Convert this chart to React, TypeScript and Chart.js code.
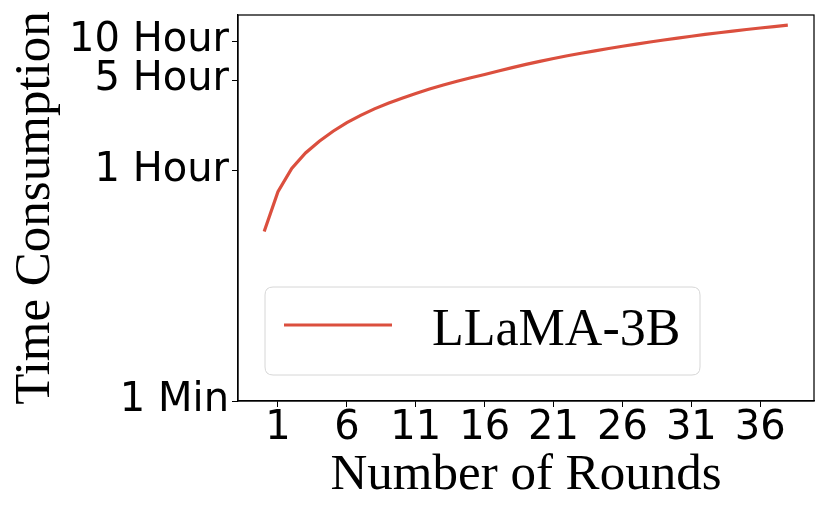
import React, { useEffect, useRef } from 'react';
import { Chart, registerables } from 'chart.js';

Chart.register(...registerables);

// ---- data ----
const rounds = [0, 1, 2, 3, 4, 5, 6, 7, 8, 9, 10, 11, 12, 13, 14, 15, 16, 17, 18, 19, 20, 21, 22, 23, 24, 25, 26, 27, 28, 29, 30, 31, 32, 33, 34, 35, 36, 37, 38];
// cumulative time in seconds
const timeSeconds = [
  1220, 2480, 3750, 4930, 6080, 7250, 8450, 9620, 10800, 11950,
  13050, 14200, 15350, 16500, 17650, 18780, 19900, 21180, 22480, 23800,
  25120, 26430, 27730, 29020, 30300, 31580, 32860, 34140, 35420, 36700,
  37980, 39250, 40520, 41780, 43030, 44250, 45450, 46630, 47780,
];
const seriesLabel = 'LLaMA-3B';
const xTickValues = [1, 6, 11, 16, 21, 26, 31, 36];
const yTickValues = [60, 3600, 18000, 36000];
const yTickLabels = ['1 Min', '1 Hour', '5 Hour', '10 Hour'];
const xTitle = 'Number of Rounds';
const yTitle = 'Time Consumption';

const LINE_COLOR = '#db4f3e';
const SERIF = '"Liberation Serif", "DejaVu Serif", serif';
const SANS = '"DejaVu Sans", sans-serif';

const framePlugin = {
  id: 'frameAndLegend',
  afterDraw(chart: any) {
    const { ctx, chartArea } = chart;
    const { left, right, top, bottom } = chartArea;
    ctx.save();
    // frame
    ctx.strokeStyle = '#000';
    ctx.lineWidth = 1.25;
    ctx.strokeRect(left, top, right - left, bottom - top);

    // legend (lower left inside plot)
    const ds = chart.data.datasets[0];
    const bx = left + 27;
    const bw = 435;
    const bh = 88;
    const by = bottom - 26 - bh;
    const r = 8;
    ctx.beginPath();
    ctx.moveTo(bx + r, by);
    ctx.lineTo(bx + bw - r, by);
    ctx.quadraticCurveTo(bx + bw, by, bx + bw, by + r);
    ctx.lineTo(bx + bw, by + bh - r);
    ctx.quadraticCurveTo(bx + bw, by + bh, bx + bw - r, by + bh);
    ctx.lineTo(bx + r, by + bh);
    ctx.quadraticCurveTo(bx, by + bh, bx, by + bh - r);
    ctx.lineTo(bx, by + r);
    ctx.quadraticCurveTo(bx, by, bx + r, by);
    ctx.closePath();
    ctx.fillStyle = 'rgba(255,255,255,0.8)';
    ctx.fill();
    ctx.strokeStyle = '#d6d6d6';
    ctx.lineWidth = 1;
    ctx.stroke();

    const ly = by + 38;
    ctx.beginPath();
    ctx.moveTo(bx + 19, ly);
    ctx.lineTo(bx + 127, ly);
    ctx.strokeStyle = ds.borderColor;
    ctx.lineWidth = 3.2;
    ctx.stroke();

    ctx.fillStyle = '#000';
    ctx.font = `52px ${SERIF}`;
    ctx.textAlign = 'left';
    ctx.textBaseline = 'alphabetic';
    ctx.fillText(ds.label, bx + 167, by + 58);
    ctx.restore();
  },
};

export default function App() {
  const canvasRef = useRef<HTMLCanvasElement | null>(null);

  useEffect(() => {
    if (!canvasRef.current) return;
    const chart = new Chart(canvasRef.current, {
      type: 'line',
      data: {
        datasets: [
          {
            label: seriesLabel,
            data: rounds.map((r, i) => ({ x: r, y: timeSeconds[i] })),
            borderColor: LINE_COLOR,
            backgroundColor: LINE_COLOR,
            borderWidth: 3.2,
            pointRadius: 0,
            tension: 0,
            fill: false,
          },
        ],
      },
      options: {
        responsive: false,
        animation: false,
        devicePixelRatio: 1,
        layout: { padding: { left: 0, right: 16, top: 15, bottom: 0 } },
        plugins: {
          legend: { display: false },
          tooltip: { enabled: false },
        },
        scales: {
          x: {
            type: 'linear',
            min: -1.9,
            max: 39.9,
            afterBuildTicks: (scale: any) => {
              scale.ticks = xTickValues.map((v) => ({ value: v }));
            },
            afterFit: (scale: any) => {
              scale.height = 118;
              scale.paddingLeft = 0;
              scale.paddingRight = 0;
            },
            ticks: {
              autoSkip: false,
              maxRotation: 0,
              padding: 0,
              color: '#000',
              font: { family: SANS, size: 40, lineHeight: 1.1 },
              callback: (v: any) => String(v),
            },
            grid: {
              drawOnChartArea: false,
              drawTicks: true,
              tickLength: 6,
              color: '#000',
              lineWidth: 1,
            },
            border: { display: true, color: '#000', width: 1.25 },
            title: {
              display: true,
              text: xTitle,
              color: '#000',
              font: { family: SERIF, size: 51, lineHeight: 1.2 },
              padding: { top: 0, bottom: 13 },
            },
          },
          y: {
            type: 'logarithmic',
            min: 60,
            max: 57260,
            afterBuildTicks: (scale: any) => {
              scale.ticks = yTickValues.map((v) => ({ value: v }));
            },
            afterFit: (scale: any) => {
              scale.width = 238;
              scale.paddingTop = 0;
              scale.paddingBottom = 0;
            },
            ticks: {
              autoSkip: false,
              padding: 3,
              color: '#000',
              font: { family: SANS, size: 40, lineHeight: 1.1 },
              callback: (_v: any, i: number) => yTickLabels[i],
            },
            grid: {
              drawOnChartArea: false,
              drawTicks: true,
              tickLength: 6,
              color: '#000',
              lineWidth: 1,
            },
            border: { display: true, color: '#000', width: 1.25 },
            title: {
              display: true,
              text: yTitle,
              color: '#000',
              font: { family: SERIF, size: 51, lineHeight: 1.2 },
              padding: { top: 5, bottom: 0 },
            },
          },
        },
      },
      plugins: [framePlugin],
    });
    return () => chart.destroy();
  }, []);

  return (
    <div style={{ position: 'absolute', left: 0, top: 0, width: 830, height: 519, background: '#fff' }}>
      <canvas ref={canvasRef} width={830} height={519} />
    </div>
  );
}
